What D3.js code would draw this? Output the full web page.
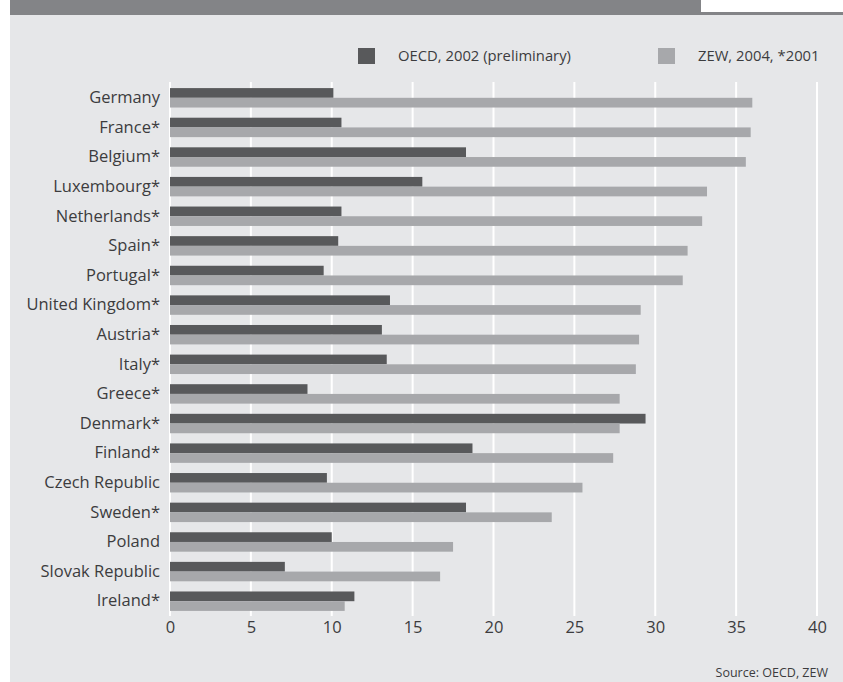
<!DOCTYPE html>
<html>
<head>
<meta charset="utf-8">
<script src="https://cdn.jsdelivr.net/npm/d3@7"></script>
<style>
  body { margin: 0; background: #ffffff; }
  svg text { font-family: "Open Sans", "Noto Sans", sans-serif; fill: #3c3c3e; }
</style>
</head>
<body>
<div id="chart"></div>
<script>
// countries, top to bottom
const countries = ["Germany", "France*", "Belgium*", "Luxembourg*", "Netherlands*", "Spain*",
  "Portugal*", "United Kingdom*", "Austria*", "Italy*", "Greece*", "Denmark*", "Finland*",
  "Czech Republic", "Sweden*", "Poland", "Slovak Republic", "Ireland*"];

const oecdValues = [10.1, 10.6, 18.3, 15.6, 10.6, 10.4, 9.5, 13.6, 13.1, 13.4, 8.5, 29.4, 18.7,
  9.7, 18.3, 10.0, 7.1, 11.4];
const zewValues = [36.0, 35.9, 35.6, 33.2, 32.9, 32.0, 31.7, 29.1, 29.0, 28.8, 27.8, 27.8, 27.4,
  25.5, 23.6, 17.5, 16.7, 10.8];

const seriesNames = ["OECD, 2002 (preliminary)", "ZEW, 2004, *2001"];
const xTicks = [0, 5, 10, 15, 20, 25, 30, 35, 40];
const sourceNote = "Source: OECD, ZEW";

const width = 843, height = 682;
const colors = {oecd: "#58595b", zew: "#a7a8ab"};

const data = countries.map((c, i) => ({country: c, oecd: oecdValues[i], zew: zewValues[i]}));

const svg = d3.select("#chart").append("svg")
    .attr("width", width)
    .attr("height", height);

// background panel + header strip
svg.append("rect")
    .attr("x", 10).attr("y", 15)
    .attr("width", width - 10).attr("height", height - 15)
    .attr("fill", "#e6e7e9");
svg.append("rect")
    .attr("x", 10).attr("y", 12)
    .attr("width", width - 10).attr("height", 3)
    .attr("fill", "#838487");
svg.append("rect")
    .attr("x", 10).attr("y", 0)
    .attr("width", 691).attr("height", 15)
    .attr("fill", "#838487");

const x = d3.scaleLinear()
    .domain([0, 40])
    .range([170, 817]);

const y = d3.scaleBand()
    .domain(countries)
    .range([83, 616])
    .paddingInner(0.344)
    .paddingOuter(0.172);

const ySub = d3.scaleBand()
    .domain(["oecd", "zew"])
    .range([0, y.bandwidth()]);

// gridlines
svg.append("g")
    .selectAll("line")
    .data(xTicks)
    .join("line")
    .attr("x1", d => x(d)).attr("x2", d => x(d))
    .attr("y1", 82).attr("y2", 616)
    .attr("stroke", "#ffffff")
    .attr("stroke-width", 2);

// bars
const groups = svg.append("g")
    .selectAll("g")
    .data(data)
    .join("g")
    .attr("transform", d => "translate(0," + y(d.country) + ")");

groups.selectAll("rect")
    .data(d => ["oecd", "zew"].map(k => ({key: k, value: d[k]})))
    .join("rect")
    .attr("x", x(0))
    .attr("y", d => ySub(d.key))
    .attr("width", d => x(d.value) - x(0))
    .attr("height", ySub.bandwidth())
    .attr("fill", d => colors[d.key]);

// y axis labels
const yAxis = d3.axisLeft(y).tickSize(0).tickPadding(10);
const yG = svg.append("g")
    .attr("transform", "translate(" + x(0) + ",0)")
    .call(yAxis);
yG.select(".domain").remove();
yG.selectAll("text")
    .attr("font-size", 16.5)
    .attr("font-family", null)
    .attr("fill", null);

// x axis labels
const xAxis = d3.axisBottom(x).tickValues(xTicks).tickSize(0).tickPadding(0);
const xG = svg.append("g")
    .attr("transform", "translate(0,621)")
    .call(xAxis);
xG.select(".domain").remove();
xG.selectAll("text")
    .attr("font-size", 16.5)
    .attr("font-family", null)
    .attr("fill", null);

// legend
const legendX = [358, 658];
const legend = svg.append("g")
    .selectAll("g")
    .data(seriesNames)
    .join("g")
    .attr("transform", (d, i) => "translate(" + legendX[i] + ",48)");
legend.append("rect")
    .attr("width", 17).attr("height", 16)
    .attr("fill", (d, i) => i === 0 ? colors.oecd : colors.zew);
legend.append("text")
    .attr("x", 40).attr("y", 13)
    .attr("font-size", 14.8)
    .text(d => d);

// source
svg.append("text")
    .attr("x", 828).attr("y", 677)
    .attr("text-anchor", "end")
    .attr("font-size", 12.5)
    .text(sourceNote);
</script>
</body>
</html>
